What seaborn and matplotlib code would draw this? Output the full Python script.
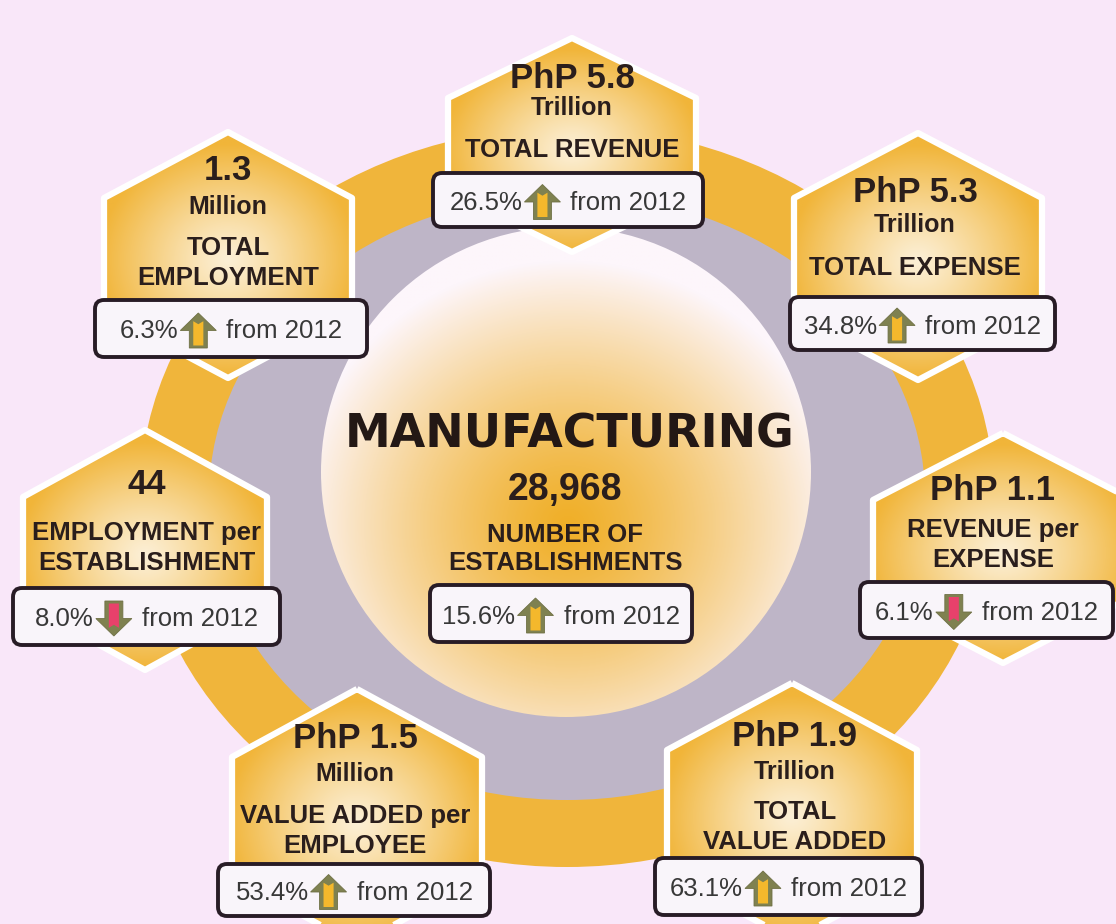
import numpy as np
import matplotlib
matplotlib.use("Agg")
import matplotlib.pyplot as plt
from matplotlib.patches import Polygon, Ellipse, Circle, FancyBboxPatch
import seaborn as sns

# ---------------- data ----------------
sector = "MANUFACTURING"
establishments = 28968
establishments_change = 15.6
establishments_dir = "up"
base_year = 2012

currency = ["PhP", "", "PhP", "", "PhP", "PhP", "PhP"]
metric_values = [5.8, 1.3, 5.3, 44, 1.1, 1.5, 1.9]
metric_units = ["Trillion", "Million", "Trillion", "", "", "Million", "Trillion"]
metric_labels = ["TOTAL REVENUE", "TOTAL\nEMPLOYMENT", "TOTAL EXPENSE",
                 "EMPLOYMENT per\nESTABLISHMENT", "REVENUE per\nEXPENSE",
                 "VALUE ADDED per\nEMPLOYEE", "TOTAL\nVALUE ADDED"]
pct_change = [26.5, 6.3, 34.8, 8.0, 6.1, 53.4, 63.1]
change_dir = ["up", "up", "up", "down", "down", "up", "up"]

# ---------------- layout (pixels, y downward) ----------------
W, H = 1116, 924
# hexagon: cx, top vertex y, half width, rise, bottom vertex y
hex_geom = [(572, 38, 124, 60, 252), (228, 132, 124, 66, 378), (918, 133, 124, 65, 380),
            (145, 430, 122, 67, 670), (1003, 433, 130, 67, 663),
            (357, 689, 125, 68, 945), (792, 683, 125, 67, 940)]
# text x, value y, unit y, first label line y
text_pos = [(572, 78, 108, 150), (228, 170, 207, 248), (915, 192, 225, 268),
            (147, 485, None, 533), (993, 490, None, 530),
            (355, 739, 774, 816), (795, 737, 772, 812)]
box_geom = [(433, 703, 173, 227), (95, 367, 300, 357), (790, 1055, 297, 350),
            (13, 280, 588, 645), (860, 1113, 582, 638),
            (218, 490, 864, 916), (655, 922, 858, 915)]
center_box = (430, 692, 585, 642)

BG = "#F9E7F9"
YELLOW = "#F0B53B"
GRAY = "#BEB5C7"
TXT = "#2A1E1C"
BOXTXT = "#383838"

sns.set_theme(style="white")
plt.rcParams["font.family"] = ["Liberation Sans", "DejaVu Sans"]

fig = plt.figure(figsize=(W / 100, H / 100), dpi=100, facecolor=BG)
ax = fig.add_axes([0, 0, 1, 1])
ax.set_facecolor(BG)
ax.set_xlim(0, W)
ax.set_ylim(H, 0)
ax.axis("off")


def grad_fill(patch, gx, gy, rx, ry, c_in, c_out, gamma, z):
    ext = patch.get_path().transformed(patch.get_patch_transform()).get_extents()
    x0, y0, x1, y1 = ext.x0, ext.y0, ext.x1, ext.y1
    nx, ny = int(x1 - x0) + 2, int(y1 - y0) + 2
    X, Y = np.meshgrid(np.linspace(x0, x1, nx), np.linspace(y0, y1, ny))
    d = np.sqrt(((X - gx) / rx) ** 2 + ((Y - gy) / ry) ** 2)
    t = np.clip(d, 0, 1) ** gamma
    cmap = sns.blend_palette([c_in, c_out], n_colors=256, as_cmap=True)
    im = ax.imshow(t, cmap=cmap, vmin=0, vmax=1, extent=(x0, x1, y0, y1),
                   origin="lower", interpolation="bilinear", aspect="auto", zorder=z)
    im.set_clip_path(patch)


# gear: teeth ring and gray ring
gear_c = (567, 497)
ax.add_patch(Ellipse(gear_c, 2 * 427, 2 * 370, fc=YELLOW, ec="none", zorder=1))
ax.add_patch(Ellipse(gear_c, 2 * 358, 2 * 303, fc=GRAY, ec="none", zorder=2))

# center circle with radial gradient
circ = Circle((566, 472), 245, fc="none", ec="none", transform=ax.transData)
ax.add_patch(circ)
grad_fill(circ, 568, 525, 275, 265, "#F0AF28", "#FDF6FB", 1.25, 3)

# hexagons
for (cx, top, hw, rise, bot) in hex_geom:
    pts = [(cx, top), (cx + hw, top + rise), (cx + hw, bot - rise), (cx, bot),
           (cx - hw, bot - rise), (cx - hw, top + rise)]
    poly = Polygon(pts, closed=True, fc="none", ec="none", transform=ax.transData)
    ax.add_patch(poly)
    cy = (top + bot) / 2
    grad_fill(poly, cx, cy + 5, hw * 1.05, (bot - top) / 2 * 0.95,
              "#FCEFD5", "#F1B539", 1.15, 4)
    ax.add_patch(Polygon(pts, closed=True, fc="none", ec="white", lw=4.5,
                         joinstyle="round", zorder=5))


def draw_arrow(x, yc, direction, Wd=36, Hd=35):
    s = -1 if direction == "up" else 1       # head towards smaller y for up
    tip = yc + s * Hd / 2
    base = yc - s * Hd / 2
    neck = tip - s * Hd * 0.5
    sw = Wd * 0.25
    pts = [(x, tip), (x + Wd / 2, neck), (x + sw, neck), (x + sw, base),
           (x - sw, base), (x - sw, neck), (x - Wd / 2, neck)]
    ax.add_patch(Polygon(pts, closed=True, fc="#7F8150", ec="#6F7045", lw=0.6, zorder=8))
    inner = "#F4B82C" if direction == "up" else "#E8416B"
    iw = Wd * 0.14
    itop = tip - s * Hd * 0.32
    ibase = base + s * 2.5
    ipts = [(x - iw, ibase), (x + iw, ibase), (x + iw, itop + s * 3), (x, itop),
            (x - iw, itop + s * 3)]
    ax.add_patch(Polygon(ipts, closed=True, fc=inner, ec="none", zorder=9))


renderer = fig.canvas.get_renderer()


def change_box(bx0, bx1, by0, by1, pct, direction):
    ax.add_patch(FancyBboxPatch((bx0, by0), bx1 - bx0, by1 - by0,
                                boxstyle="round,pad=0,rounding_size=9",
                                fc="#F9F5FA", ec="#281C26", lw=2.8, zorder=6))
    yc = (by0 + by1) / 2 + 3
    t1 = ax.text(0, yc, f"{pct:.1f}%", fontsize=18.5, color=BOXTXT,
                 ha="left", va="center", zorder=10)
    t2 = ax.text(0, yc, f"from {base_year}", fontsize=18.5, color=BOXTXT,
                 ha="left", va="center", zorder=10)
    w1 = t1.get_window_extent(renderer).width
    w2 = t2.get_window_extent(renderer).width
    aw, g1, g2 = 36, 2, 10
    total = w1 + g1 + aw + g2 + w2
    start = (bx0 + bx1) / 2 - total / 2
    t1.set_x(start)
    draw_arrow(start + w1 + g1 + aw / 2, yc - 1, direction)
    t2.set_x(start + w1 + g1 + aw + g2)


for i in range(len(metric_values)):
    tx, vy, uy, ly = text_pos[i]
    v = metric_values[i]
    vstr = f"{v:g}"
    if currency[i]:
        vstr = f"{currency[i]} {vstr}"
    ax.text(tx, vy, vstr, fontsize=25, fontweight="bold", color=TXT,
            ha="center", va="center", zorder=10)
    if metric_units[i] and uy is not None:
        ax.text(tx, uy, metric_units[i], fontsize=18, fontweight="bold", color=TXT,
                ha="center", va="center", zorder=10)
    for k, line in enumerate(metric_labels[i].split("\n")):
        ax.text(tx, ly + 30 * k, line, fontsize=18.5, fontweight="bold", color=TXT,
                ha="center", va="center", zorder=10)
    change_box(*box_geom[i], pct_change[i], change_dir[i])

# center texts
ax.text(570, 435, sector, fontsize=33, fontweight="bold", color="#231815",
        family=["DejaVu Sans"], ha="center", va="center", zorder=10)
ax.text(565, 490, f"{establishments:,}", fontsize=27, fontweight="bold", color=TXT,
        ha="center", va="center", zorder=10)
for k, line in enumerate(["NUMBER OF", "ESTABLISHMENTS"]):
    ax.text(565, 535 + 28 * k, line, fontsize=18.5, fontweight="bold", color=TXT,
            ha="center", va="center", zorder=10)
change_box(*center_box, establishments_change, establishments_dir)

ax.set_xlim(0, W)
ax.set_ylim(H, 0)
fig.savefig("out.png", dpi=100, facecolor=BG)
